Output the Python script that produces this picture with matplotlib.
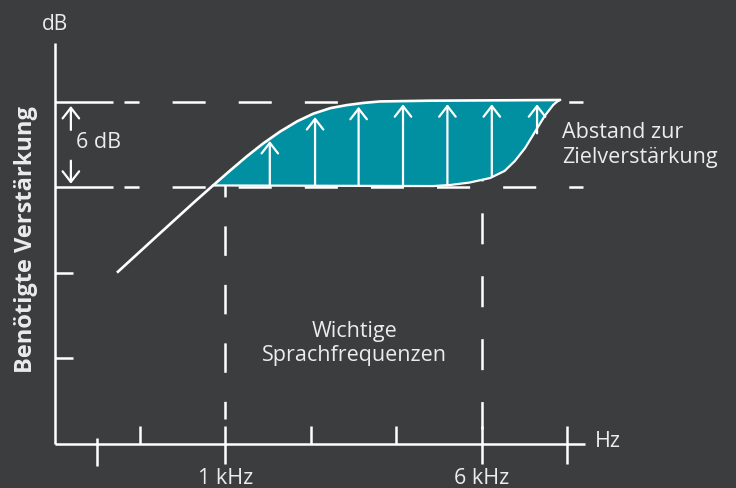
import matplotlib.pyplot as plt
import numpy as np

plt.rcParams['font.family'] = ['Open Sans', 'DejaVu Sans']
plt.rcParams['lines.scale_dashes'] = False

bg = '#3b3d3e'
teal = '#0090a1'
txt = '#ececec'

# curve of the required gain (x: axis units, y: steps of 6 dB)
upper_x = [0.73, 1.20, 1.64, 1.855, 2.05, 2.25, 2.44, 2.64, 2.84, 3.03, 3.23, 3.42,
           3.61, 3.81, 4.40, 5.92]
upper_y = [2.00, 2.43, 2.83, 3.02, 3.19, 3.36, 3.51, 3.65, 3.77, 3.86, 3.925, 3.96,
           3.985, 4.003, 4.012, 4.02]
fill_start = 3

lower_x = [1.855, 4.43, 4.63, 4.86, 5.10, 5.27, 5.39, 5.51, 5.625, 5.74, 5.84, 5.895, 5.92]
lower_y = [3.02, 3.013, 3.025, 3.054, 3.107, 3.19, 3.306, 3.458, 3.646, 3.834, 3.963, 4.009, 4.02]

arrow_x = [2.52, 3.05, 3.56, 4.08, 4.60, 5.12, 5.65]
arrow_base = [3.02, 3.02, 3.02, 3.02, 3.02, 3.12, 3.63]
arrow_tip = [3.54, 3.82, 3.94, 3.97, 3.97, 3.97, 3.97]

ytick_levels = [1, 2, 3, 4]
xtick_up = [1, 3, 4]
xtick_both = [2, 5, 6]
xtick_down = [0.5]
freq_labels = {2: '1 kHz', 5: '6 kHz'}

fig = plt.figure(figsize=(7.36, 4.88), dpi=100, facecolor=bg)
ax = fig.add_axes([0, 0, 1, 1])
ax.set_facecolor(bg)
ax.set_xlim(-0.64, 7.98)
ax.set_ylim(-0.52, 5.19)
ax.axis('off')

lw = 1.8
# axes
ax.plot([0, 0], [0, 4.69], color='white', lw=lw, solid_capstyle='butt')
ax.plot([0, 6.21], [0, 0], color='white', lw=lw, solid_capstyle='butt')

# y ticks
for lev in ytick_levels:
    if lev >= 3:
        ax.plot([0, 0.685], [lev, lev], color='white', lw=lw, solid_capstyle='butt')
        ax.plot([0.814, 6.19], [lev, lev], color='white', lw=lw,
                linestyle=(12.96, (23.8, 23.8)), dash_capstyle='butt')
    else:
        ax.plot([0, 0.21], [lev, lev], color='white', lw=lw, solid_capstyle='butt')

# x ticks
for t in xtick_up:
    ax.plot([t, t], [0, 0.21], color='white', lw=lw, solid_capstyle='butt')
for t in xtick_both:
    ax.plot([t, t], [-0.245, 0.21], color='white', lw=lw, solid_capstyle='butt')
for t in xtick_down:
    ax.plot([t, t], [-0.26, 0.06], color='white', lw=lw, solid_capstyle='butt')

# vertical dashed markers of the speech range
ax.plot([2, 2], [3.05, 0.293], color='white', lw=lw,
        linestyle=(11.2, (21.2, 20.9)), dash_capstyle='butt')
ax.plot([5, 5], [4.0, 0.176], color='white', lw=lw,
        linestyle=(10.8, (22.3, 23.0)), dash_capstyle='butt')

# filled gap between curves
poly_x = upper_x[fill_start:] + lower_x[::-1]
poly_y = upper_y[fill_start:] + lower_y[::-1]
ax.fill(poly_x, poly_y, color=teal, lw=0, zorder=3)
ax.plot(upper_x, upper_y, color='white', lw=1.9, zorder=5,
        solid_capstyle='butt', solid_joinstyle='round')
ax.plot(lower_x, lower_y, color='white', lw=1.6, zorder=5, solid_joinstyle='round')

head = '->,head_length=0.45,head_width=0.35'
for x, b, t in zip(arrow_x, arrow_base, arrow_tip):
    ax.annotate('', xy=(x, t), xytext=(x, b), zorder=6,
                arrowprops=dict(arrowstyle=head, color='white', lw=1.6,
                                shrinkA=0, shrinkB=0, mutation_scale=17))

# 6 dB marker
ax.annotate('', xy=(0.19, 3.95), xytext=(0.19, 3.67),
            arrowprops=dict(arrowstyle=head, color='white', lw=1.6,
                            shrinkA=0, shrinkB=0, mutation_scale=17))
ax.annotate('', xy=(0.19, 3.04), xytext=(0.19, 3.31),
            arrowprops=dict(arrowstyle=head, color='white', lw=1.6,
                            shrinkA=0, shrinkB=0, mutation_scale=17))
ax.text(0.25, 3.52, '6 dB', color=txt, fontsize=15.5, ha='left', va='center')

# labels
ax.text(0, 4.90, 'dB', color=txt, fontsize=15, ha='center', va='center')
ax.text(6.33, 0.02, 'Hz', color=txt, fontsize=15.5, ha='left', va='center')
for pos, lab in freq_labels.items():
    ax.text(pos, -0.41, lab, color=txt, fontsize=15.5, ha='center', va='center')
ax.text(-0.335, 2.39, 'Benötigte Verstärkung', color=txt, fontsize=17,
        fontweight='bold', rotation=90, ha='center', va='center')
ax.text(5.94, 3.49, 'Abstand zur\nZielverstärkung', color=txt, fontsize=15.5,
        ha='left', va='center', linespacing=1.25)
ax.text(3.51, 1.17, 'Wichtige\nSprachfrequenzen', color=txt, fontsize=15.5,
        ha='center', va='center', linespacing=1.2)

fig.savefig('out.png', dpi=100, facecolor=bg)
